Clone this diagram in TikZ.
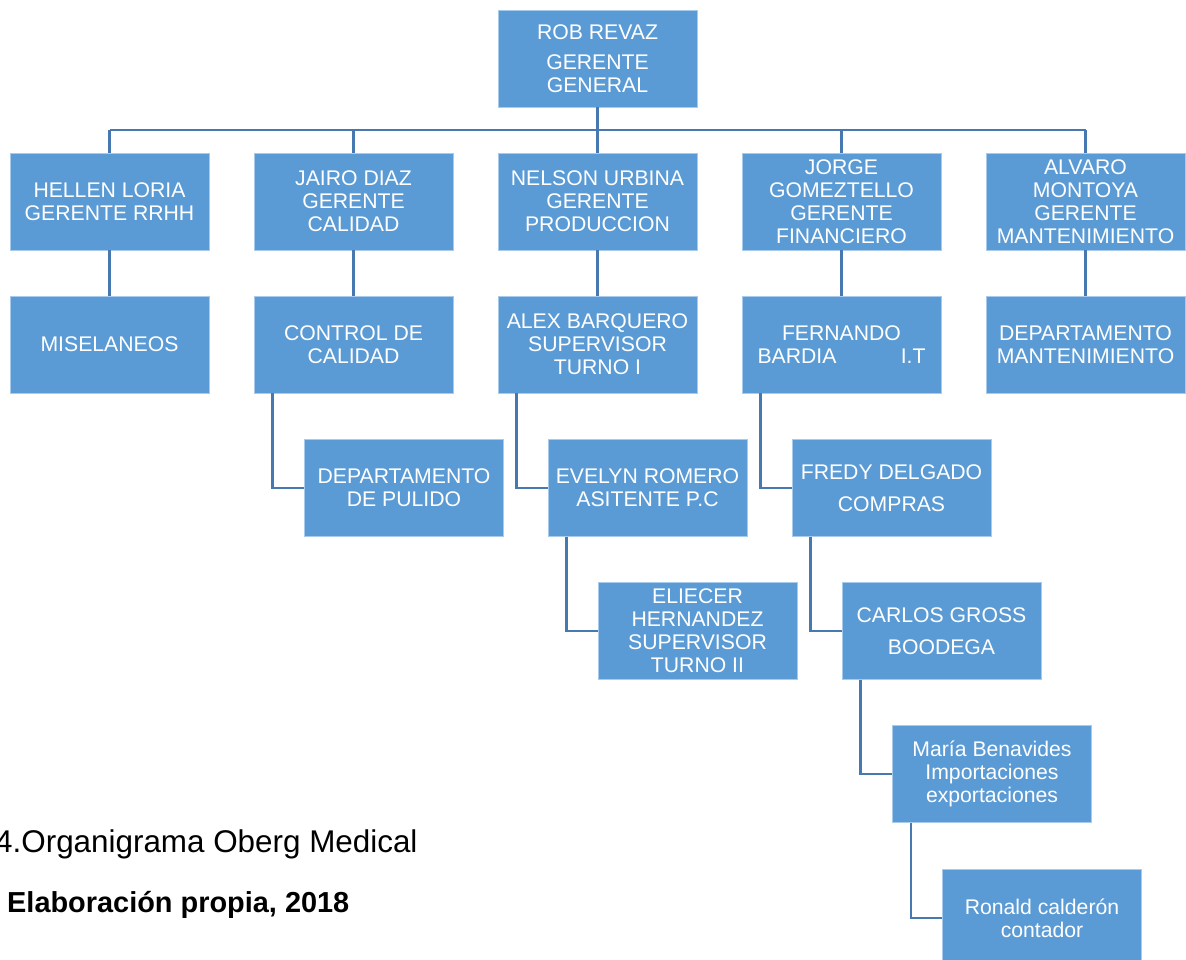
\documentclass[tikz,border=0pt]{standalone}
\usepackage{fontspec}
\setmainfont{Liberation Sans}
\definecolor{boxblue}{HTML}{5B9BD5}
\definecolor{linkblue}{HTML}{4878B0}
\definecolor{edgeblue}{HTML}{A9CBEB}
\begin{document}
\begin{tikzpicture}[x=1pt,y=-1pt,
  orgbox/.style={rectangle, fill=boxblue, draw=edgeblue, line width=0.8pt,
    minimum width=199pt, minimum height=97pt, inner sep=0pt,
    text=white, align=center, font=\fontsize{21.2}{23}\selectfont},
  link/.style={draw=linkblue, line width=2.6pt}]
\useasboundingbox (0,0) rectangle (1186,959);

% top level
\node[orgbox] (gg) at (597.5,58.5) {ROB REVAZ\\[7pt]GERENTE\\GENERAL};

% managers
\node[orgbox] (rrhh) at (109.5,201.5) {HELLEN LORIA\\GERENTE RRHH};
\node[orgbox] (cal)  at (353.5,201.5) {JAIRO DIAZ\\GERENTE\\CALIDAD};
\node[orgbox] (prod) at (597.5,201.5) {NELSON URBINA\\GERENTE\\PRODUCCION};
\node[orgbox] (fin)  at (841.5,201.5) {JORGE\\GOMEZTELLO\\GERENTE\\FINANCIERO};
\node[orgbox] (mant) at (1085.5,201.5) {ALVARO\\MONTOYA\\GERENTE\\MANTENIMIENTO};

% second row
\node[orgbox] (mis)  at (109.5,344.5) {MISELANEOS};
\node[orgbox] (cc)   at (353.5,344.5) {CONTROL DE\\CALIDAD};
\node[orgbox] (sup1) at (597.5,344.5) {ALEX BARQUERO\\SUPERVISOR\\TURNO I};
\node[orgbox] (it)   at (841.5,344.5) {FERNANDO\\\makebox[168pt]{BARDIA\hfill I.T}};
\node[orgbox] (dm)   at (1085.5,344.5) {DEPARTAMENTO\\MANTENIMIENTO};

% lower levels
\node[orgbox] (pul)  at (404,488)   {DEPARTAMENTO\\DE PULIDO};
\node[orgbox] (asi)  at (647.5,488) {EVELYN ROMERO\\ASITENTE P.C};
\node[orgbox] (comp) at (891.5,488) {FREDY DELGADO\\[9pt]COMPRAS};
\node[orgbox] (sup2) at (697.5,631) {ELIECER\\HERNANDEZ\\SUPERVISOR\\TURNO II};
\node[orgbox] (bod)  at (941.5,631) {CARLOS GROSS\\[9pt]BOODEGA};
\node[orgbox] (imp)  at (992,774)   {María Benavides\\Importaciones\\exportaciones};
\node[orgbox, minimum height=98pt] (cont) at (1042,918) {Ronald calderón\\contador};

% bus under the general manager
\coordinate (busL) at (109.5,130);
\coordinate (busR) at (1085.5,130);
\draw[link] (busL) -- (busR);
\draw[link] (gg.south) -- (gg.south |- busL);
\foreach \n in {rrhh,cal,prod,fin,mant}
  \draw[link] (\n.north) -- (\n.north |- busL);

% managers to their departments
\draw[link] (rrhh.south) -- (mis.north);
\draw[link] (cal.south) -- (cc.north);
\draw[link] (prod.south) -- (sup1.north);
\draw[link] (fin.south) -- (it.north);
\draw[link] (mant.south) -- (dm.north);

% elbow connectors
\draw[link] ([xshift=19pt]cc.south west) |- (pul.west);
\draw[link] ([xshift=19pt]sup1.south west) |- (asi.west);
\draw[link] ([xshift=19pt]it.south west) |- (comp.west);
\draw[link] ([xshift=19pt]asi.south west) |- (sup2.west);
\draw[link] ([xshift=19pt]comp.south west) |- (bod.west);
\draw[link] ([xshift=19pt]bod.south west) |- (imp.west);
\draw[link] ([xshift=19pt]imp.south west) |- (cont.west);

% caption
\node[anchor=base west, inner sep=0pt, font=\fontsize{31.4}{35}\selectfont] (cap) at (-5,852) {4.Organigrama Oberg Medical};
\node[anchor=base west, inner sep=0pt, font=\bfseries\fontsize{28.9}{32}\selectfont] (src) at (7,912) {Elaboración propia, 2018};
\end{tikzpicture}
\end{document}
